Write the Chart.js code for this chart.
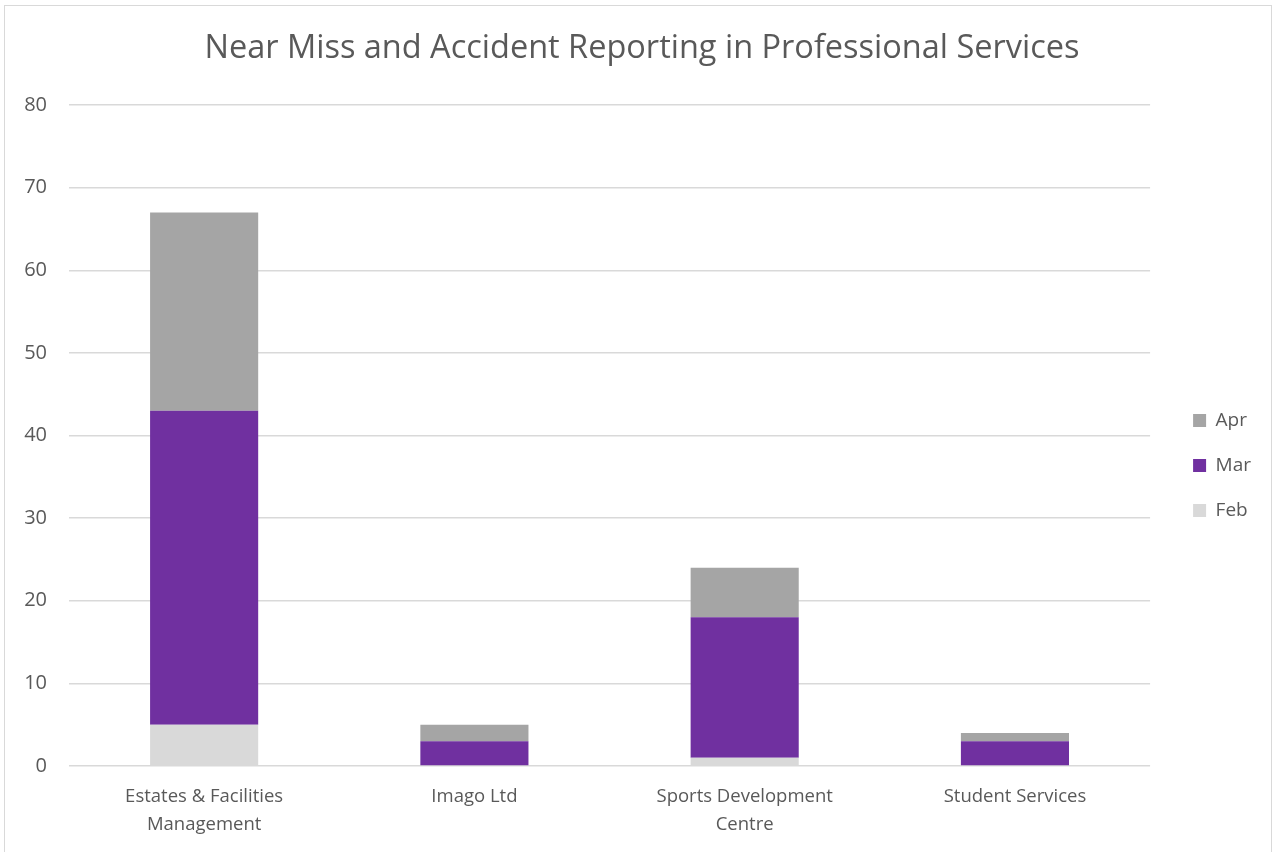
<!DOCTYPE html>
<html>
<head>
<meta charset="utf-8">
<script src="https://cdn.jsdelivr.net/npm/chart.js@4/dist/chart.umd.min.js"></script>
<style>
  html, body { margin: 0; padding: 0; background: #fff; }
  #frame { position: absolute; left: 4px; top: 5px; width: 1268px; height: 850px; border: 1.5px solid #d9d9d9; box-sizing: border-box; }
  canvas { display: block; }
</style>
</head>
<body>
<div id="frame"><canvas id="c" width="1266" height="847"></canvas></div>
<script>
const categories = [
  ['Estates & Facilities', 'Management'],
  'Imago Ltd',
  ['Sports Development', 'Centre'],
  'Student Services'
];
const febValues = [5, 0, 1, 0];
const marValues = [38, 3, 17, 3];
const aprValues = [24, 2, 6, 1];
const yTicks = { min: 0, max: 80, step: 10 };

const textColor = '#595959';
const fontFamily = '"Open Sans", Lato, "Liberation Sans", sans-serif';

new Chart(document.getElementById('c'), {
  type: 'bar',
  data: {
    labels: categories,
    datasets: [
      { label: 'Feb', data: febValues, backgroundColor: '#d9d9d9' },
      { label: 'Mar', data: marValues, backgroundColor: '#7030a0' },
      { label: 'Apr', data: aprValues, backgroundColor: '#a5a5a5' }
    ]
  },
  options: {
    responsive: false,
    animation: false,
    layout: { padding: { left: 18, right: 10, top: 0, bottom: 0 } },
    datasets: { bar: { barPercentage: 0.4, categoryPercentage: 1.0, borderWidth: 0 } },
    plugins: {
      title: {
        display: true,
        text: 'Near Miss and Accident Reporting in Professional Services',
        color: textColor,
        font: { family: fontFamily, size: 32.5, weight: 'normal' },
        padding: { top: 23.5, bottom: 36.5 }
      },
      legend: {
        position: 'right',
        reverse: true,
        title: { display: true, text: '', font: { size: 10 }, padding: { top: 0, bottom: 60 } },
        labels: {
          boxWidth: 13,
          boxHeight: 13,
          color: textColor,
          font: { family: fontFamily, size: 19 },
          padding: 26
        }
      },
      tooltip: { enabled: false }
    },
    scales: {
      x: {
        stacked: true,
        grid: { display: false },
        border: { display: false },
        ticks: { color: textColor, font: { family: fontFamily, size: 18.5, lineHeight: 1.55 }, padding: 8, maxRotation: 0 },
        afterFit: (s) => { s.height = 87; }
      },
      y: {
        stacked: true,
        min: yTicks.min,
        max: yTicks.max,
        grid: { color: '#d9d9d9', lineWidth: 1.5, drawTicks: false },
        border: { display: false },
        ticks: { stepSize: yTicks.step, color: textColor, font: { family: fontFamily, size: 20 }, padding: 22 },
        afterFit: (s) => { s.width = 46; }
      },
      // empty spacer between the plot and the legend
      gap: {
        type: 'linear',
        position: 'right',
        grid: { display: false },
        border: { display: false },
        ticks: { display: false },
        afterFit: (s) => { s.width = 17; }
      }
    }
  }
});
</script>
</body>
</html>
